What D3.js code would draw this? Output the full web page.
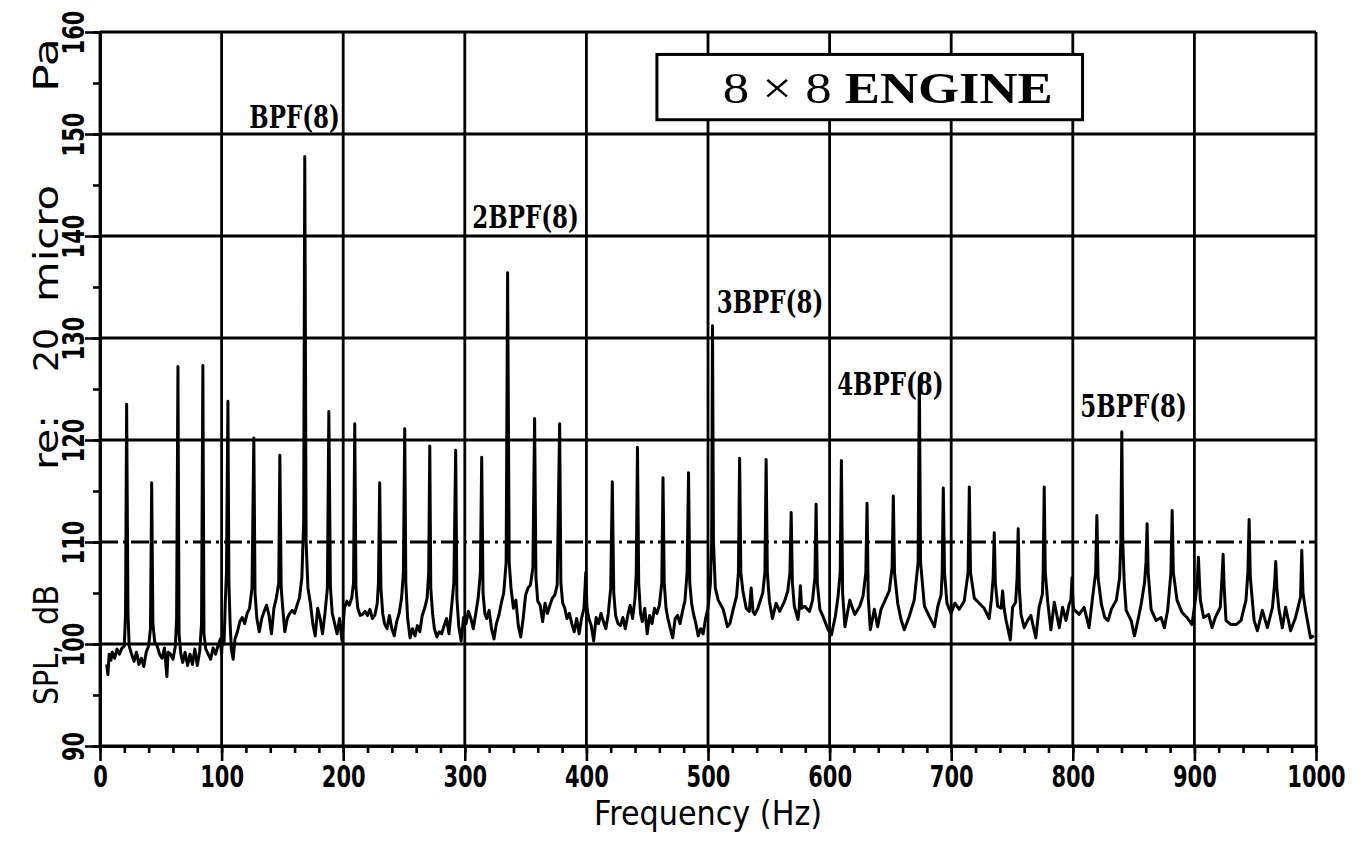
<!DOCTYPE html>
<html>
<head>
<meta charset="utf-8">
<script src="https://cdn.jsdelivr.net/npm/d3@7"></script>
<style>
body { margin: 0; background: #fff; }
svg { display: block; background: #fff; }
.grid { stroke: #000; stroke-width: 2.8; }
.trace { fill: none; stroke: #000; stroke-width: 3; stroke-linejoin: round; }
.axis path, .axis line { stroke: #000; stroke-width: 2.6; }
.axis text { font-family: "DejaVu Sans"; font-weight: bold; font-size: 30px; fill: #000; }
.title { font-family: "DejaVu Sans"; font-size: 34px; fill: #000; }
.peak { font-family: "DejaVu Serif"; font-weight: bold; font-size: 31px; fill: #000; }
.box text { font-family: "Liberation Serif"; font-size: 44px; fill: #000; }
</style>
</head>
<body>
<svg width="1365" height="851"></svg>
<script>
var svg = d3.select('svg');
var width = +svg.attr('width');
var height = +svg.attr('height');

var padding = {t: 32, r: 49, b: 105, l: 100};
var chartWidth = width - padding.l - padding.r;
var chartHeight = height - padding.t - padding.b;

// axis ticks
var xTicks = [0, 100, 200, 300, 400, 500, 600, 700, 800, 900, 1000];
var yTicks = [90, 100, 110, 120, 130, 140, 150, 160];

// harmonic labels
var peakNames = ['BPF(8)', '2BPF(8)', '3BPF(8)', '4BPF(8)', '5BPF(8)'];
var peakNameHz = [160, 350, 551, 650, 850];
var peakNameDb = [150.6, 140.8, 132.5, 124.4, 122.3];

// spectrum trace [Hz, dB]
var spectrum = [
  [5.5,98.0],[6.5,97.0],[7.5,99.0],[9,98.4],[10,99.2],[12,98.6],[14,99.5],[16,99.0],[18,99.6],[20,99.8],
  [21,103],[21.9,123.5],[23,103],[24,99.8],[26,99.0],[28,98.3],[30,99.2],[32,98.0],[34,98.6],[36,97.8],
  [38,99.2],[40,99.8],[41.5,101.5],[42.5,115.8],[43.5,102],[45,100.2],[47,99.8],[49,99.0],[51,98.6],[53,99.6],
  [55,96.8],[56,99.2],[58,99.0],[60,98.5],[62,99.8],[63,102.5],[64.1,127.2],[65,101],[66.5,99.0],[68,98.2],
  [70,99.2],[72,97.9],[74,99.0],[76,98.0],[78,99.5],[80,97.9],[82,99.3],[83.5,102],[84.6,127.3],[85.5,101],
  [87,99.5],[89,99.0],[91,98.5],[93,99.6],[95,99.0],[97,99.8],[99,100.5],[100,99.0],[101,101],[102,100],
  [103,104],[104,107],[105.2,123.8],[106,106],[107,102],[108,99.5],[109.5,98.5],[111,100.5],[113,101.2],[115,102.2],
  [117,102.6],[119,102.0],[121,103.0],[123,103.5],[125,105.5],[126.5,120.2],[127.5,105],[129,102.5],[131,101.2],[133,102.5],
  [135,103.2],[137,103.8],[139,102.8],[141,101.0],[143,103.5],[145,104.5],[147,106],[147.9,118.5],[149,105.5],[150.5,103.2],
  [152,101.2],[154,102.5],[156,103.0],[158,103.3],[160,103.0],[162,103.8],[164,104.5],[166,106.5],[167.5,112],[168.4,147.8],
  [169.5,110],[171,105.5],[173,104],[175,102.0],[177,100.8],[179,103.5],[181,102.5],[183,101.0],[185,103.0],[187,105.5],
  [188.2,122.8],[189.5,105.5],[191,103.0],[193,102.0],[195,101.0],[197,102.5],[199,100.3],[201,103.5],[203,104.2],[205,103.8],
  [207,104.5],[208.5,106],[209.5,121.6],[210.5,105.5],[212,103.5],[214,102.8],[216,102.9],[218,103.2],[220,102.8],[222,103.4],
  [224,102.5],[226,102.8],[228,104],[229,106],[230,115.8],[231,105.5],[232.5,103],[234,102],[236,101.5],[238,102.8],
  [240,101.5],[242,100.8],[244,102.2],[246,103.0],[248,104.5],[249.5,107],[250.6,121.1],[251.5,106],[253,102.5],[255,100.6],
  [257,101.5],[259,100.8],[261,101.8],[263,101.2],[265,102.8],[267,103.5],[269,104.5],[270.3,107],[271.2,119.4],[272,105.5],
  [273.5,103],[275,101.5],[277,100.7],[279,101.2],[281,101.0],[283,101.8],[285,102.5],[287,101.0],[289,103.5],[291,106],
  [292.5,119.0],[293.5,104.5],[295,101.8],[297,100.3],[299,102.6],[301,102.0],[303,103.2],[305,102.5],[307,101.5],[309,103.0],
  [311,104.5],[312.8,107],[313.9,118.3],[315,105],[316.5,103],[318,102.5],[320,103.3],[322,101.5],[324,100.5],[326,102.0],
  [328,102.8],[330,104.0],[332,105],[334,108],[335.2,136.4],[336.5,108],[338,105.5],[340,103.5],[342,104.3],[344,101.8],
  [346,100.7],[348,102.5],[350,104.8],[352,105.5],[354,105.8],[356,107.5],[357.4,122.1],[358.5,106.5],[360,104.2],[362,103.8],
  [364,102.2],[366,104.0],[368,103.0],[370,103.8],[372,104.5],[374,104.8],[376,105.8],[378,121.6],[379,106],[380.5,104],
  [382,103.6],[384,102.5],[386,103.0],[388,102.0],[390,101.2],[392,102.5],[394,101.0],[396,102.5],[398,103.5],[399.5,107],
  [400.5,103.5],[402,102.5],[404,101.8],[406,100.3],[408,102.6],[410,102.0],[412,103.0],[414,102.2],[416,101.5],[418,103.0],
  [420,105.5],[421.3,115.9],[422.5,105],[424,102.8],[426,102.0],[428,101.8],[430,102.6],[432,101.5],[434,102.8],[436,103.8],
  [438,102.5],[440,104.5],[441,107],[442,119.3],[443,106],[444.5,103],[446,102.2],[448,103.5],[450,101.0],[452,102.8],
  [454,102.0],[456,103.5],[458,103.0],[460,103.8],[462,106],[463,116.3],[464,106],[465.5,103.5],[467,102.5],[469,101.5],
  [471,100.6],[473,102.5],[475,102.8],[477,102.0],[479,103.2],[481,104.2],[482.8,107],[484,116.8],[485,106],[486.5,104],
  [488,103.0],[490,102.0],[492,100.8],[494,101.5],[496,101.0],[498,102.5],[500,103.5],[502,106],[503,110],[503.7,131.2],
  [504.5,110],[506,105.5],[508.4,104.3],[512.5,103.4],[516,101.7],[518,102.0],[520.7,103.4],[523.5,104.7],[525,107],[526,118.2],
  [527,107],[528.7,105.2],[531.4,103.5],[534,103.2],[535.5,105.5],[537,103.2],[538.5,102.9],[541,103.5],[545,105],[546.8,107],
  [547.8,118.1],[548.8,107],[550.5,104.2],[553,102.5],[556,104],[559,103.2],[563,104.2],[565.6,105.2],[567.4,107],[568.4,112.9],
  [569.4,106],[571,103.7],[574,102.4],[575,103.5],[576,105.7],[577,103.5],[579.5,103.7],[583.5,103.2],[586,104.3],[587.9,106.5],
  [588.9,113.7],[589.9,106],[592,103.4],[594.6,102.7],[598.8,101.4],[601.5,100.9],[604.7,102.7],[607,104.7],[608.7,107],[609.7,118.0],
  [610.7,105],[612.6,101.7],[616.6,104.3],[620.7,102.9],[624.8,103.7],[627.5,104.7],[629.8,107],[630.8,113.8],[631.8,104.5],[633.5,101.4],
  [636.8,103.4],[639.5,101.7],[642.3,103.4],[646.4,104.5],[649.1,105.2],[651.4,107.5],[652.4,114.5],[653.4,107],[656,104],[658.7,102.4],
  [661.4,101.4],[665.5,102.7],[669.6,104.3],[672.8,108],[673.8,126.1],[674.8,108],[678,103.7],[682,102.7],[686.2,101.7],[689,103.7],
  [691.7,104.8],[692.6,107],[693.5,115.3],[694.5,107],[696.5,104],[699.8,103],[703,104],[706.6,103.4],[710.7,104.2],[713.9,107],
  [714.9,115.4],[715.9,107],[719,104.5],[723,104],[727.1,103.5],[731.2,102.5],[733,104.3],[734.5,106.5],[735.4,110.9],[736.3,106],
  [738.2,103.7],[741,103.5],[742.3,105.2],[743.5,103.5],[745,102.4],[748.6,100.4],[750.5,103.6],[753,104.1],[754.2,106.5],[755.1,111.3],
  [756,105.5],[757.4,102.9],[760,101.6],[762.8,102.3],[765.5,102.8],[769.6,100.6],[772.3,103.6],[775,104.9],[775.6,107],[776.5,115.4],
  [777.4,107],[779.4,104.1],[782,101.4],[784.8,104.1],[788.9,101.6],[791.6,103.6],[794.4,102.3],[797,103.9],[798.4,104.3],[799.4,106.5],
  [800.3,103.8],[801,103.4],[805.2,102.9],[809.3,103.6],[813.4,101.6],[816,104.3],[818.8,107],[819.8,112.6],[820.8,106.5],[823.5,103.9],
  [826.2,102.6],[829,102.3],[831.7,103.4],[835.8,104.3],[838.5,106.5],[839.5,110],[840.3,120.8],[841.1,110],[842.3,106],[843.9,103.3],
  [848,102.3],[850.7,100.8],[853.5,102.3],[856.2,103.9],[859,106],[860.2,108],[861.1,111.8],[862,107],[864.4,103.4],[868.5,102.3],
  [872.6,102.6],[875.3,101.6],[878,103.3],[880.7,107],[881.7,113.1],[882.7,107],[885.7,104.3],[889.8,103.1],[893.9,102.6],[898,101.9],
  [901,104.5],[902.5,106.5],[903.3,108.5],[904.2,106],[904.9,104.3],[907.6,102.6],[911.7,102.9],[914.5,101.6],[917.2,102.6],[921.3,103.6],
  [922.7,106.5],[923.6,108.8],[924.5,105.5],[926,102.3],[930.1,101.9],[934.2,101.9],[938.3,102.3],[942.4,104.3],[944,107],[945,112.2],
  [946,106.5],[949.1,102.3],[951.8,101.3],[955.9,103.3],[960,101.6],[964.2,103.6],[966,106],[966.9,108.1],[967.8,105.5],[969.5,103.4],
  [972.3,101.6],[975,103.6],[979.1,101.3],[983.2,102.6],[987.3,104.6],[988.3,109.2],[989.3,105],[991.4,103.3],[995.5,100.6],[998.2,100.8]
];

var xScale = d3.scaleLinear().domain([0, 1000]).range([0, chartWidth]);
var yScale = d3.scaleLinear().domain([90, 160]).range([chartHeight, 0]);

var chartG = svg.append('g').attr('transform', 'translate(' + [padding.l, padding.t] + ')');

// grid
chartG.selectAll('.vgrid').data(xTicks).enter().append('line')
  .attr('class', 'grid vgrid')
  .attr('x1', function(d) { return xScale(d); })
  .attr('x2', function(d) { return xScale(d); })
  .attr('y1', 0).attr('y2', chartHeight);

chartG.selectAll('.hgrid').data(yTicks).enter().append('line')
  .attr('class', 'grid hgrid')
  .attr('x1', 0).attr('x2', chartWidth)
  .attr('y1', function(d) { return yScale(d); })
  .attr('y2', function(d) { return yScale(d); })
  .attr('stroke-dasharray', function(d) { return d === 110 ? '18,5,3,5' : null; });

// engine box
var box = chartG.append('g').attr('class', 'box');
box.append('rect')
  .attr('x', xScale(458)).attr('y', yScale(157.8))
  .attr('width', xScale(808) - xScale(458))
  .attr('height', yScale(151.4) - yScale(157.8))
  .attr('fill', '#fff').attr('stroke', '#000').attr('stroke-width', 3);
var boxText = box.append('text')
  .attr('x', (xScale(458) + xScale(808)) / 2 + 18)
  .attr('y', yScale(151.4) - 17)
  .attr('text-anchor', 'middle')
  .attr('textLength', 330)
  .attr('lengthAdjust', 'spacingAndGlyphs');
boxText.append('tspan').text('8 \u00d7 8 ');
boxText.append('tspan').attr('font-weight', 'bold').text('ENGINE');

// spectrum trace
var line = d3.line()
  .x(function(d) { return xScale(d[0]); })
  .y(function(d) { return yScale(d[1]); });

chartG.append('path').datum(spectrum).attr('class', 'trace').attr('d', line);

// harmonic labels
chartG.selectAll('.peak').data(peakNames).enter().append('text')
  .attr('class', 'peak')
  .attr('text-anchor', 'middle')
  .attr('transform', function(d, i) {
    return 'translate(' + [xScale(peakNameHz[i]), yScale(peakNameDb[i])] + ') scale(0.74,1)';
  })
  .text(function(d) { return d; });

// axes
var xAxis = chartG.append('g').attr('class', 'axis')
  .attr('transform', 'translate(0,' + chartHeight + ')')
  .call(d3.axisBottom(xScale).tickValues(xTicks).tickSize(15).tickSizeOuter(0).tickFormat(d3.format('d')));
xAxis.selectAll('text')
  .attr('y', null).attr('dy', null)
  .attr('transform', 'translate(0,41) scale(0.7,1)');

chartG.append('g').attr('class', 'axis')
  .attr('transform', 'translate(0,' + chartHeight + ')')
  .call(d3.axisBottom(xScale).tickValues(xScale.ticks(50)).tickSize(7).tickSizeOuter(0).tickFormat(''));

var yAxis = chartG.append('g').attr('class', 'axis')
  .call(d3.axisLeft(yScale).tickValues(yTicks).tickSize(15).tickSizeOuter(0));
yAxis.selectAll('text')
  .attr('x', null).attr('dy', null)
  .attr('text-anchor', 'middle')
  .attr('transform', 'translate(-16,0) rotate(-90) scale(0.7,1)');

chartG.append('g').attr('class', 'axis')
  .call(d3.axisLeft(yScale).tickValues(yScale.ticks(14)).tickSize(7).tickSizeOuter(0).tickFormat(''));

// axis titles
svg.append('text').attr('class', 'title')
  .attr('text-anchor', 'middle')
  .attr('font-size', '33px')
  .attr('transform', 'translate(' + [padding.l + chartWidth / 2, 825] + ') scale(0.89,1)')
  .text('Frequency (Hz)');

// y title, word by word along the axis: [word, lower end, upper end] in page pixels
var yTitle = [['SPL,', 705, 645], ['dB', 625, 585], ['re:', 470, 415], ['20', 372, 328], ['micro', 302, 185], ['Pa', 92, 38]];
svg.selectAll('.ytitle').data(yTitle).enter().append('text')
  .attr('class', 'title ytitle')
  .attr('text-anchor', 'start')
  .attr('transform', function(d) { return 'translate(' + [58, d[1]] + ') rotate(-90)'; })
  .attr('textLength', function(d) { return d[1] - d[2]; })
  .attr('lengthAdjust', 'spacingAndGlyphs')
  .text(function(d) { return d[0]; });
</script>
</body>
</html>
